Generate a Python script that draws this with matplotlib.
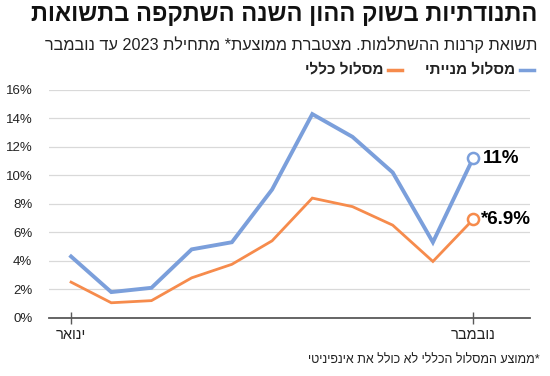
import re
import matplotlib
matplotlib.use("Agg")
import matplotlib.pyplot as plt
from matplotlib import font_manager

months = list(range(11))  # ינואר .. נובמבר
x_labels = {0: "ינואר", 10: "נובמבר"}
equity = [4.3, 1.8, 2.1, 4.8, 5.3, 9.0, 14.3, 12.7, 10.2, 5.3, 11.2]
general = [2.5, 1.05, 1.2, 2.8, 3.75, 5.4, 8.4, 7.8, 6.5, 3.95, 6.9]
y_ticks = [0, 2, 4, 6, 8, 10, 12, 14, 16]

title = "התנודתיות בשוק ההון השנה השתקפה בתשואות"
subtitle = "תשואת קרנות ההשתלמות. מצטברת ממוצעת* מתחילת 2023 עד נובמבר"
legend_names = ["מסלול מנייתי", "מסלול כללי"]
footnote = "*ממוצע המסלול הכללי לא כולל את אינפיניטי"

BLUE = "#7b9fdb"
ORANGE = "#f68b4c"

names = {f.name for f in font_manager.fontManager.ttflist}
FONT = "Liberation Sans Narrow" if "Liberation Sans Narrow" in names else "Liberation Sans"
plt.rcParams["font.family"] = [FONT, "DejaVu Sans"]


def rtl(s):
    # matplotlib has no bidi: reverse, keep digit runs left-to-right
    v = s[::-1]
    return re.sub(r"\d+", lambda m: m.group()[::-1], v)


fig = plt.figure(figsize=(5.5, 3.76), dpi=100)
ax = fig.add_axes([0.089, 0.155, 0.875, 0.606])

ax.plot(months, equity, color=BLUE, lw=2.8, solid_joinstyle="miter", zorder=3)
ax.plot(months, general, color=ORANGE, lw=2.0, solid_joinstyle="miter", zorder=3)
ax.plot(months[-1], equity[-1], "o", ms=8, mfc="white", mec=BLUE, mew=1.8, zorder=4)
ax.plot(months[-1], general[-1], "o", ms=8, mfc="white", mec=ORANGE, mew=1.8, zorder=4)
ax.annotate(f"{equity[-1]:.0f}%", (months[-1], equity[-1]), xytext=(7, 0),
            textcoords="offset points", va="center", ha="left",
            fontsize=13.5, fontweight="bold")
ax.annotate(f"*{general[-1]}%", (months[-1], general[-1]), xytext=(6, 0),
            textcoords="offset points", va="center", ha="left",
            fontsize=13.5, fontweight="bold")

ax.set_xlim(-0.55, 11.42)
ax.set_ylim(0, 16)
ax.set_yticks(y_ticks)
ax.set_yticklabels([f"{t}%" for t in y_ticks], fontsize=9.5, color="#222222")
ax.set_xticks(list(x_labels))
ax.set_xticklabels([rtl(v) for v in x_labels.values()], fontsize=10.5, color="#222222")
ax.grid(axis="y", color="#d9d9d9", lw=0.9)
ax.set_axisbelow(True)
for s in ["top", "right", "left"]:
    ax.spines[s].set_visible(False)
ax.spines["bottom"].set_color("#595959")
ax.spines["bottom"].set_linewidth(1.3)
ax.spines["bottom"].set_zorder(5)
ax.tick_params(axis="y", length=0, pad=12)
ax.tick_params(axis="x", direction="inout", length=9, width=1, color="#595959", pad=3)

fig.text(0.977, 0.962, rtl(title), ha="right", va="center", fontsize=17,
         fontweight="bold", color="#111111")
fig.text(0.977, 0.88, rtl(subtitle), ha="right", va="center", fontsize=11.7, color="#222222")

# legend drawn by hand, right to left
fig.add_artist(plt.Line2D([0.945, 0.97], [0.815, 0.815], color=BLUE, lw=2.5))
fig.text(0.937, 0.815, rtl(legend_names[0]), ha="right", va="center",
         fontsize=11, fontweight="bold", color="#222222")
fig.add_artist(plt.Line2D([0.705, 0.73], [0.815, 0.815], color=ORANGE, lw=2.5))
fig.text(0.697, 0.815, rtl(legend_names[1]), ha="right", va="center",
         fontsize=11, fontweight="bold", color="#222222")

fig.text(0.982, 0.042, rtl(footnote), ha="right", va="center", fontsize=9, color="#222222")

fig.savefig("out.png", dpi=100, facecolor="white")
